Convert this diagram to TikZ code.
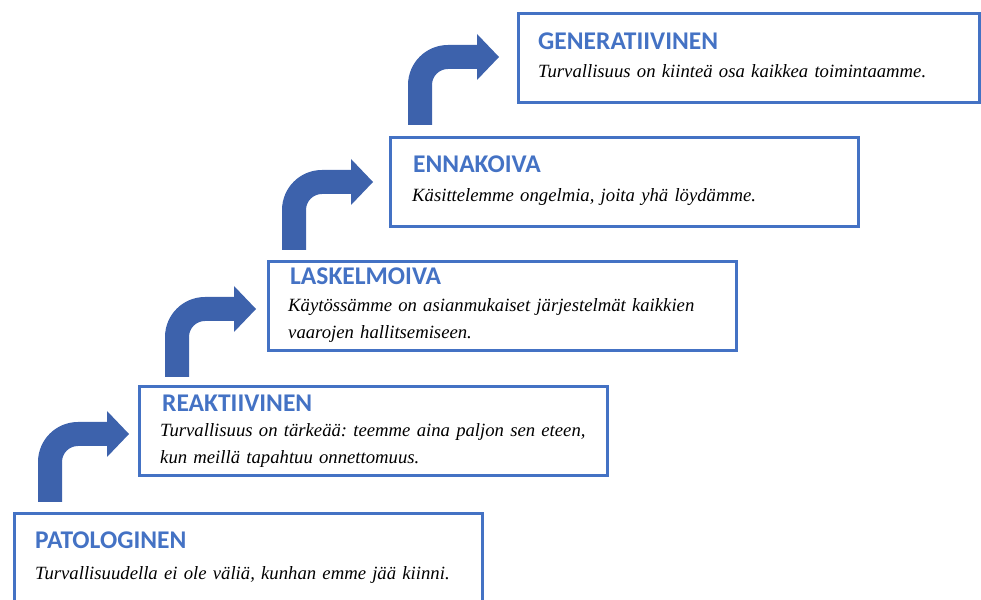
\documentclass[tikz,border=0pt]{standalone}
\usepackage{fontspec}
\setmainfont{Liberation Serif}
\newfontfamily\headfont{Carlito}
\usetikzlibrary{calc}
\definecolor{stageblue}{RGB}{68,114,196}
\definecolor{arrowblue}{RGB}{61,98,172}
\frenchspacing

\begin{document}
\begin{tikzpicture}[
  x=1pt, y=1pt,
  stage/.style={
    draw=stageblue,
    line width=3pt,
    anchor=north west,
    minimum width=468pt,
    minimum height=89pt,
    inner sep=0pt
  },
  title/.style={
    font=\headfont\bfseries\fontsize{25.5}{30}\selectfont,
    text=stageblue,
    anchor=base west,
    inner sep=0pt
  },
  desc/.style={
    font=\itshape\fontsize{18.7}{27}\selectfont,
    anchor=base west,
    inner sep=0pt,
    text width=520pt,
    align=left
  },
  steparrow/.pic={
    \fill[arrowblue] (0,0) -- (0,40)
      arc[start angle=180,end angle=90,radius=40pt]
      -- ++(29,0) -- ++(0,11) -- ++(22,-23) -- ++(-22,-23) -- ++(0,11)
      -- ++(-29,0)
      arc[start angle=90,end angle=180,radius=16pt]
      -- (24,0) -- cycle;
  }
]
\useasboundingbox (0,0) rectangle (981,599);
\clip (0,0) rectangle (981,599);

% Stages, bottom to top
\node[stage] (pat) at (13,87) {};
\node[stage] (rea) at ($(pat.north west)+(125,127)$) {};
\node[stage] (las) at ($(rea.north west)+(129,125)$) {};
\node[stage] (enn) at ($(las.north west)+(122,124)$) {};
\node[stage,minimum width=461pt] (gen) at ($(enn.north west)+(128,124)$) {};

% Titles and descriptions
\node[title] (pat-t) at ($(pat.north west)+(22,-37)$) {PATOLOGINEN};
\node[desc] (pat-d) at ($(pat-t.base west)+(0,-30)$) {Turvallisuudella ei ole väliä, kunhan emme jää kiinni.};

\node[title] (rea-t) at ($(rea.north west)+(24,-27)$) {REAKTIIVINEN};
\node[desc] (rea-d) at ($(rea-t.base west)+(-2,-25)$) {Turvallisuus on tärkeää: teemme aina paljon sen eteen,\\
  kun meillä tapahtuu onnettomuus.};

\node[title] (las-t) at ($(las.north west)+(23,-25)$) {LASKELMOIVA};
\node[desc] (las-d) at ($(las-t.base west)+(-2,-27)$) {Käytössämme on asianmukaiset järjestelmät kaikkien\\
  vaarojen hallitsemiseen.};

\node[title] (enn-t) at ($(enn.north west)+(24,-37)$) {ENNAKOIVA};
\node[desc] (enn-d) at ($(enn-t.base west)+(-1,-29)$) {Käsittelemme ongelmia, joita yhä löydämme.};

\node[title] (gen-t) at ($(gen.north west)+(21,-38)$) {GENERATIIVINEN};
\node[desc] (gen-d) at ($(gen-t.base west)+(0,-28)$) {Turvallisuus on kiinteä osa kaikkea toimintaamme.};

% Step arrows between stages
\coordinate (up1) at ($(pat.north west)+(25,10)$);
\coordinate (up2) at ($(rea.north west)+(27,8)$);
\coordinate (up3) at ($(las.north west)+(15,10)$);
\coordinate (up4) at ($(enn.north west)+(19,11)$);
\pic at (up1) {steparrow};
\pic at (up2) {steparrow};
\pic at (up3) {steparrow};
\pic at (up4) {steparrow};

\end{tikzpicture}
\end{document}
